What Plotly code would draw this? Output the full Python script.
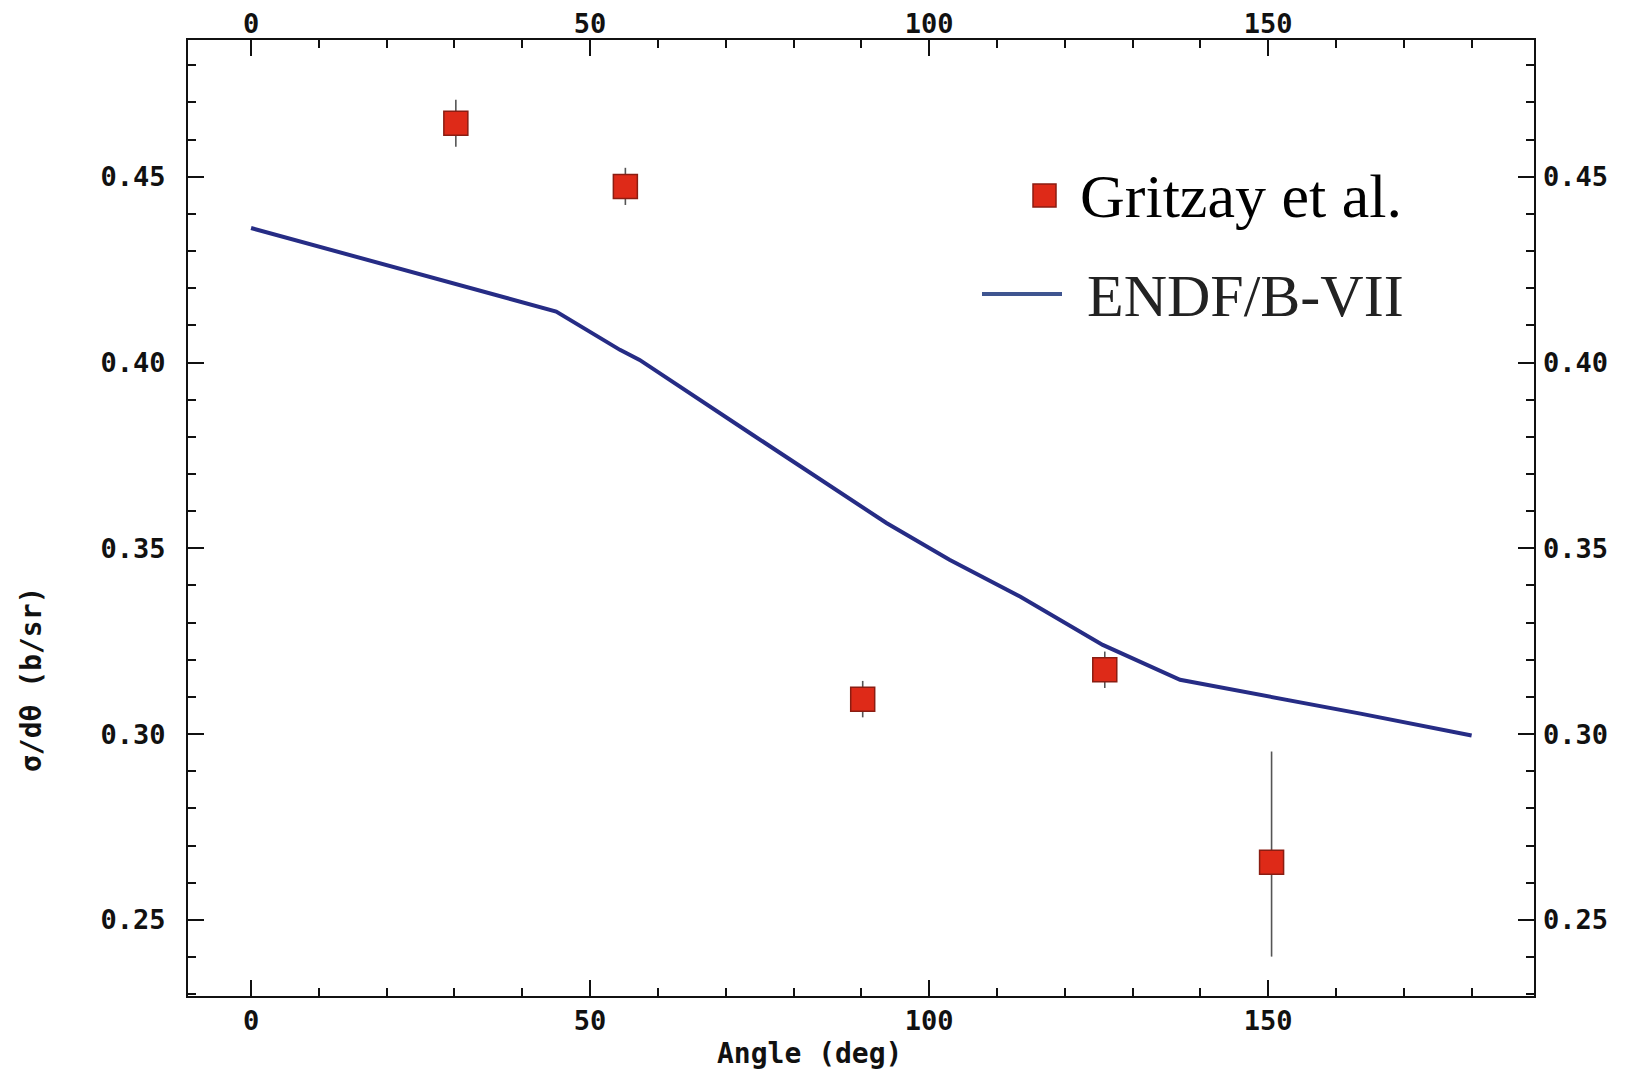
import plotly.graph_objects as go

# Experimental data (Gritzay et al.)
exp_angle = [30.2, 55.2, 90.2, 125.9, 150.5]
exp_value = [0.4644, 0.4474, 0.3094, 0.3173, 0.2655]
exp_err_plus = [0.0063, 0.0050, 0.0049, 0.0049, 0.0298]
exp_err_minus = [0.0063, 0.0050, 0.0049, 0.0049, 0.0254]

# ENDF/B-VII evaluation
endf_angle = [0.0, 27.8, 45.0, 54.4, 57.3, 74.0, 93.7, 103.0, 113.4, 125.6, 137.0, 163.6, 180.0]
endf_value = [0.4362, 0.4222, 0.4137, 0.4034, 0.4007, 0.3805, 0.3568, 0.3469, 0.3370, 0.3240, 0.3146, 0.3055, 0.2996]

x_range = [-9.3, 189.2]
y_range = [0.2295, 0.4868]

# page has an 8px body margin; figure sized to fit inside the window
OFF = 8
W, H = 1641 - 2 * OFF, 1079 - 2 * OFF
L, T = 188 - OFF, 40 - OFF
R = W - (1534 - OFF)
B = H - (996 - OFF)
PW, PH = W - L - R, H - T - B

def px(x):
    return (x - OFF - L) / PW

def py(y):
    return (T + PH - (y - OFF)) / PH

tickfont = dict(family="DejaVu Sans Mono", size=27, color="#111111", weight="bold")
titlefont = dict(family="DejaVu Sans Mono", size=28, color="#111111", weight="bold")

fig = go.Figure()
fig.add_trace(go.Scatter(
    x=endf_angle, y=endf_value, mode="lines", xaxis="x2", yaxis="y2",
    line=dict(color="#262c85", width=4), showlegend=False, hoverinfo="skip"))
fig.add_trace(go.Scatter(
    x=exp_angle, y=exp_value, mode="markers",
    marker=dict(symbol="square", size=24, color="#de2a18",
                line=dict(color="#8a1d12", width=1.5)),
    error_y=dict(type="data", array=exp_err_plus, arrayminus=exp_err_minus,
                 symmetric=False, color="#555555", thickness=1.6, width=0),
    showlegend=False))

axis_common = dict(showgrid=False, zeroline=False, showline=True,
                   linecolor="#111111", linewidth=2, ticks="inside",
                   ticklen=16, tickwidth=2, tickcolor="#111111",
                   mirror="allticks", tickfont=tickfont)

fig.update_layout(
    width=W, height=H,
    margin=dict(l=L, r=R, t=T, b=B, autoexpand=False),
    paper_bgcolor="white", plot_bgcolor="white",
    showlegend=False,
    xaxis=dict(range=x_range, dtick=50, tick0=0,
               minor=dict(dtick=10, tick0=0, ticks="inside", ticklen=8,
                          tickwidth=2, tickcolor="#111111"),
               ticklabelstandoff=0,
               **axis_common),
    yaxis=dict(range=y_range, dtick=0.05, tick0=0.25, tickformat=".2f",
               minor=dict(dtick=0.01, tick0=0.25, ticks="inside", ticklen=8,
                          tickwidth=2, tickcolor="#111111"),
               ticklabelstandoff=15,
               **axis_common),
    xaxis2=dict(range=x_range, dtick=50, tick0=0, overlaying="x", side="top",
                showgrid=False, zeroline=False, showline=False, ticks="",
                tickfont=tickfont, anchor="y2", ticklabelstandoff=1),
    yaxis2=dict(range=y_range, dtick=0.05, tick0=0.25, tickformat=".2f",
                overlaying="y", side="right", showgrid=False, zeroline=False,
                showline=False, ticks="", tickfont=tickfont, anchor="x2",
                ticklabelstandoff=8),
)

# Axis titles
fig.add_annotation(text="Angle (deg)", xref="paper", yref="paper",
                   x=px(809), y=py(1071), xanchor="center", yanchor="bottom",
                   showarrow=False, font=titlefont, borderpad=0)
fig.add_annotation(text="σ/dθ (b/sr)", xref="paper", yref="paper",
                   x=px(31), y=py(680), xanchor="center", yanchor="middle",
                   showarrow=False, textangle=-90, font=titlefont)

# Legend (drawn manually)
fig.add_shape(type="rect", xref="paper", yref="paper",
              x0=px(1033), x1=px(1056), y0=py(207), y1=py(184),
              fillcolor="#de2a18", line=dict(color="#8a1d12", width=1.5))
fig.add_shape(type="line", xref="paper", yref="paper",
              x0=px(982), x1=px(1062), y0=py(294), y1=py(294),
              line=dict(color="#3f5590", width=4))
fig.add_annotation(text="Gritzay et al.", xref="paper", yref="paper",
                   x=px(1078), y=py(196), xanchor="left", yanchor="middle",
                   showarrow=False,
                   font=dict(family="Liberation Serif", size=62, color="#000000"))
fig.add_annotation(text="ENDF/B-VII", xref="paper", yref="paper",
                   x=px(1085), y=py(296), xanchor="left", yanchor="middle",
                   showarrow=False,
                   font=dict(family="Liberation Serif", size=60, color="#222222"))

fig.write_html("out.html")
